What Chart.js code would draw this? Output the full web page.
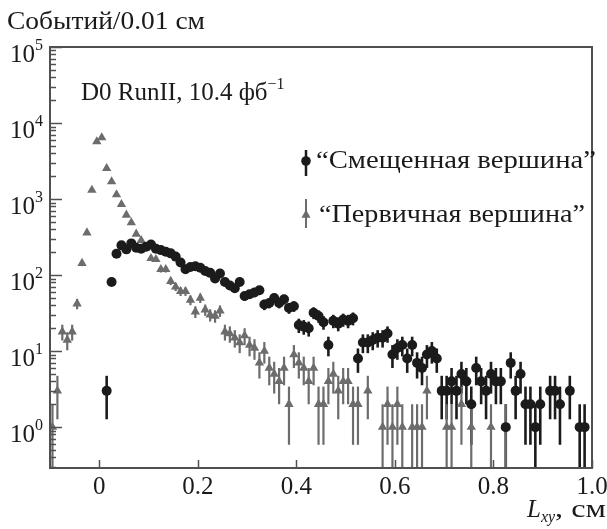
<!DOCTYPE html>
<html>
<head>
<meta charset="utf-8">
<script src="https://cdn.jsdelivr.net/npm/chart.js@4/dist/chart.umd.min.js"></script>
<style>
  html, body { margin: 0; padding: 0; background: #fff; }
  #wrap { width: 607px; height: 529px; }
</style>
</head>
<body>
<div id="wrap"><canvas id="chart" width="607" height="529"></canvas></div>
<script>
// bin centres, 0.01 cm bins
const binCenters = [
  -0.095, -0.085, -0.075, -0.065, -0.055, -0.045, -0.035, -0.025, -0.015, -0.005,
  0.005, 0.015, 0.025, 0.035, 0.045, 0.055, 0.065, 0.075, 0.085, 0.095,
  0.105, 0.115, 0.125, 0.135, 0.145, 0.155, 0.165, 0.175, 0.185, 0.195,
  0.205, 0.215, 0.225, 0.235, 0.245, 0.255, 0.265, 0.275, 0.285, 0.295,
  0.305, 0.315, 0.325, 0.335, 0.345, 0.355, 0.365, 0.375, 0.385, 0.395,
  0.405, 0.415, 0.425, 0.435, 0.445, 0.455, 0.465, 0.475, 0.485, 0.495,
  0.505, 0.515, 0.525, 0.535, 0.545, 0.555, 0.565, 0.575, 0.585, 0.595,
  0.605, 0.615, 0.625, 0.635, 0.645, 0.655, 0.665, 0.675, 0.685, 0.695,
  0.705, 0.715, 0.725, 0.735, 0.745, 0.755, 0.765, 0.775, 0.785, 0.795,
  0.805, 0.815, 0.825, 0.835, 0.845, 0.855, 0.865, 0.875, 0.885, 0.895,
  0.905, 0.915, 0.925, 0.935, 0.945, 0.955, 0.965, 0.975, 0.985, 0.995
];

// "Смещенная вершина" (black circles), null = empty bin
const displacedCounts = [
  null, null, null, null, null, null, null, null, null, null,
  null, 3, 81, 191, 246, 218, 261, 229, 222, 236,
  253, 222, 213, 203, 193, 175, 146, 119, 128, 131,
  125, 113, 107, 90, 105, 81, 73, 67, 81, 53,
  56, 59, 63, 41, 43, 50, 43, 48, 37, 39,
  22, 21, 20, 32, 29, 24, 12, 25, 23, 26,
  25, 27, 8, 13, 13, 14, 15, 15, 17, 9,
  11, 12, 8, 12, 7, 6, 9, 10, 8, 3,
  3, 4, 3, 5, 4, 2, 6, 4, 3, 5,
  4, 4, 1, 7, 3, 5, 2, 2, 1, 2,
  null, 3, 3, 2, null, 3, null, 1, 1, null
];

// "Первичная вершина" (grey triangles)
const primaryCounts = [
  1, 3, 18, 14, 18, 42, 143, 361, 1313, 5690,
  6430, 2535, 1694, 1142, 851, 617, 490, 347, 286, 231,
  166, 161, 119, 119, 83, 70, 61, 61, 47, 33,
  50, 35, 30, 29, 34, 18, 17, 15, 13, 16,
  12, 11, 7, 10, 6, 5, 4, 6, 2, 9,
  7, 6, 4, 6, 2, 2, 4, 5, 3, 4,
  4, 2, 2, null, 3, null, null, 1, 2, 1,
  2, 1, null, 1, 1, 1, 3, null, null, null,
  1, 1, null, 2, null, 1, null, null, null, 1,
  null, null, 1, null, null, null, null, null, null, null,
  null, null, null, null, null, null, null, null, null, null
];

const xTickValues = [0, 0.2, 0.4, 0.6, 0.8, 1.0];
const xTickLabels = ['0', '0.2', '0.4', '0.6', '0.8', '1.0'];
const yDecades = [0, 1, 2, 3, 4, 5];
const seriesLabels = ['\u201CСмещенная вершина\u201D', '\u201CПервичная вершина\u201D'];

const SERIF = '"Liberation Serif", "DejaVu Serif", serif';
const BLACK = '#1b1b1b';
const GREY = '#6c6c6c';
const FRAME = '#505050';

function toPoints(counts) {
  const pts = [];
  counts.forEach((n, i) => {
    if (n != null) pts.push({ x: binCenters[i], y: n });
  });
  return pts;
}

// the original typeface is wider than Liberation Serif for cyrillic,
// so stretch a string horizontally to a given width
function wideText(ctx, text, x, y, width) {
  const w = ctx.measureText(text).width;
  ctx.save();
  ctx.translate(x, y);
  ctx.scale(width / w, 1);
  ctx.textAlign = 'left';
  ctx.fillText(text, 0, 0);
  ctx.restore();
}

// vertical sqrt(N) error bars, drawn under the markers
const errorBars = {
  id: 'errorBars',
  beforeDatasetsDraw(chart) {
    const { ctx, chartArea, scales: { x, y } } = chart;
    ctx.save();
    chart.data.datasets.forEach(ds => {
      ctx.strokeStyle = ds.barColor;
      ctx.lineWidth = ds.barWidth;
      ds.data.forEach(p => {
        const err = Math.sqrt(p.y);
        const lo = Math.max(p.y - err, y.min);
        const px = x.getPixelForValue(p.x);
        const top = Math.max(y.getPixelForValue(p.y + err), chartArea.top);
        const bot = Math.min(y.getPixelForValue(lo), chartArea.bottom);
        ctx.beginPath();
        ctx.moveTo(px, top);
        ctx.lineTo(px, bot);
        ctx.stroke();
      });
    });
    ctx.restore();
  }
};

function drawCircle(ctx, cx, cy, r, color) {
  ctx.fillStyle = color;
  ctx.beginPath();
  ctx.arc(cx, cy, r, 0, Math.PI * 2);
  ctx.fill();
}

function drawTriangle(ctx, cx, cy, r, color) {
  ctx.fillStyle = color;
  ctx.beginPath();
  ctx.moveTo(cx, cy - r);
  ctx.lineTo(cx + r * 0.866, cy + r * 0.5);
  ctx.lineTo(cx - r * 0.866, cy + r * 0.5);
  ctx.closePath();
  ctx.fill();
}

// frame, inward ticks, labels, legend and titles
const decorations = {
  id: 'decorations',
  afterDraw(chart) {
    const { ctx, chartArea: a, scales: { x, y } } = chart;
    ctx.save();

    // frame
    ctx.strokeStyle = FRAME;
    ctx.lineWidth = 2;
    ctx.strokeRect(a.left, a.top, a.right - a.left, a.bottom - a.top);

    // y ticks (major + minor), pointing into the plot
    ctx.lineWidth = 1.5;
    for (let d = -1; d <= 5; d++) {
      for (let m = 1; m <= 9; m++) {
        const v = m * Math.pow(10, d);
        if (v < y.min || v > y.max) continue;
        const py = Math.round(y.getPixelForValue(v)) + 0.5;
        const len = m === 1 ? 12 : 6;
        ctx.beginPath();
        ctx.moveTo(a.left, py);
        ctx.lineTo(a.left + len, py);
        ctx.stroke();
      }
    }

    // x ticks
    xTickValues.forEach(v => {
      const px = Math.round(x.getPixelForValue(v)) + 0.5;
      ctx.beginPath();
      ctx.moveTo(px, a.bottom);
      ctx.lineTo(px, a.bottom - 8);
      ctx.stroke();
    });

    ctx.fillStyle = '#1a1a1a';
    ctx.textBaseline = 'alphabetic';

    // x tick labels
    ctx.font = `25px ${SERIF}`;
    ctx.textAlign = 'center';
    xTickLabels.forEach((t, i) => {
      ctx.fillText(t, x.getPixelForValue(xTickValues[i]), 494);
    });

    // y tick labels: 10^n
    yDecades.forEach(d => {
      const py = y.getPixelForValue(Math.pow(10, d));
      ctx.font = `25px ${SERIF}`;
      ctx.textAlign = 'right';
      ctx.fillText('10', 35, py + 15);
      ctx.font = `16px ${SERIF}`;
      ctx.textAlign = 'left';
      ctx.fillText(String(d), 35, py + 3);
    });

    // y axis title
    ctx.font = `25px ${SERIF}`;
    wideText(ctx, 'Событий/0.01 см', 7, 29, 198);

    // x axis title: L_xy, см
    ctx.textAlign = 'left';
    ctx.font = `italic 25px ${SERIF}`;
    ctx.fillText('L', 527, 517);
    let lx = 527 + ctx.measureText('L').width;
    ctx.font = `italic 16px ${SERIF}`;
    ctx.fillText('xy', lx, 522);
    lx += ctx.measureText('xy').width;
    ctx.font = `25px ${SERIF}`;
    wideText(ctx, ', см', lx, 517, 606 - lx);

    // experiment label
    ctx.font = `25px ${SERIF}`;
    const lab = 'D0 RunII, 10.4 фб';
    ctx.fillText(lab, 81, 100);
    const lw = ctx.measureText(lab).width;
    ctx.font = `16px ${SERIF}`;
    ctx.fillText('\u22121', 81 + lw, 89);

    // legend
    const lgX = 306;
    ctx.strokeStyle = BLACK;
    ctx.lineWidth = 2.5;
    ctx.beginPath();
    ctx.moveTo(lgX, 150);
    ctx.lineTo(lgX, 176);
    ctx.stroke();
    drawCircle(ctx, lgX, 161, 4.8, BLACK);
    ctx.strokeStyle = GREY;
    ctx.lineWidth = 2;
    ctx.beginPath();
    ctx.moveTo(lgX, 199);
    ctx.lineTo(lgX, 228);
    ctx.stroke();
    drawTriangle(ctx, lgX, 215, 5.3, GREY);

    ctx.font = `25px ${SERIF}`;
    ctx.fillStyle = '#1a1a1a';
    wideText(ctx, seriesLabels[0], 316, 168, 280);
    wideText(ctx, seriesLabels[1], 319, 222, 266);

    ctx.restore();
  }
};

new Chart(document.getElementById('chart'), {
  type: 'scatter',
  data: {
    datasets: [
      {
        label: seriesLabels[0],
        data: toPoints(displacedCounts),
        pointStyle: 'circle',
        pointRadius: 5,
        backgroundColor: BLACK,
        borderColor: BLACK,
        borderWidth: 0,
        barColor: BLACK,
        barWidth: 2.6
      },
      {
        label: seriesLabels[1],
        data: toPoints(primaryCounts),
        pointStyle: 'triangle',
        pointRadius: 5.4,
        backgroundColor: GREY,
        borderColor: GREY,
        borderWidth: 0,
        barColor: GREY,
        barWidth: 2.2
      }
    ]
  },
  options: {
    responsive: false,
    animation: false,
    devicePixelRatio: 1,
    layout: { padding: { left: 50, top: 47, right: 15, bottom: 61 } },
    plugins: {
      legend: { display: false },
      tooltip: { enabled: false }
    },
    scales: {
      x: { type: 'linear', min: -0.1, max: 1.0, display: false },
      y: { type: 'logarithmic', min: 0.29, max: 100000, display: false }
    }
  },
  plugins: [errorBars, decorations]
});
</script>
</body>
</html>
